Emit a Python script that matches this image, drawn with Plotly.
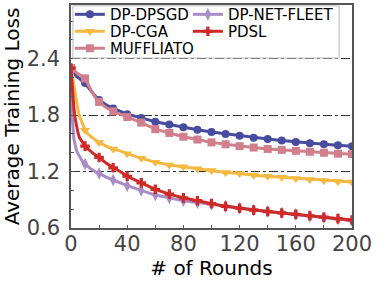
import plotly.graph_objects as go

rounds = [0, 1, 2, 3, 4, 5, 6, 8, 10, 12, 14, 16, 18, 20, 25, 30, 35, 40,
          50, 60, 70, 80, 90, 100, 110, 120, 130, 140, 150, 160, 170, 180, 190, 200]

dp_dpsgd = [2.28, 2.26, 2.24, 2.22, 2.21, 2.20, 2.19, 2.16, 2.14, 2.10, 2.06, 2.02, 1.99, 1.96,
            1.91, 1.87, 1.84, 1.81, 1.77, 1.73, 1.70, 1.67, 1.645, 1.62, 1.60, 1.58, 1.56,
            1.545, 1.53, 1.515, 1.50, 1.49, 1.48, 1.47]
dp_cga = [2.30, 2.20, 2.10, 2.01, 1.92, 1.85, 1.79, 1.71, 1.64, 1.60, 1.57, 1.55, 1.53, 1.51,
          1.47, 1.44, 1.42, 1.39, 1.34, 1.30, 1.27, 1.25, 1.23, 1.21, 1.19, 1.18, 1.16,
          1.15, 1.14, 1.125, 1.115, 1.105, 1.095, 1.09]
muffliato = [2.30, 2.29, 2.28, 2.265, 2.25, 2.24, 2.23, 2.21, 2.19, 2.13, 2.07, 2.02, 1.97, 1.94,
             1.88, 1.84, 1.81, 1.78, 1.72, 1.65, 1.61, 1.57, 1.54, 1.51, 1.49, 1.47, 1.455,
             1.44, 1.43, 1.42, 1.41, 1.40, 1.39, 1.385]
dp_net_fleet = [2.25, 1.75, 1.55, 1.47, 1.42, 1.39, 1.36, 1.31, 1.28, 1.25, 1.23, 1.21, 1.19, 1.18,
                1.14, 1.11, 1.08, 1.05, 1.00, 0.95, 0.92, 0.89, 0.87, 0.85, 0.83, 0.81, 0.79,
                0.775, 0.76, 0.745, 0.725, 0.71, 0.695, 0.675]
pdsl = [2.30, 2.05, 1.88, 1.76, 1.67, 1.61, 1.56, 1.51, 1.47, 1.44, 1.41, 1.39, 1.37, 1.35,
        1.29, 1.24, 1.20, 1.15, 1.08, 1.01, 0.96, 0.92, 0.89, 0.86, 0.83, 0.81, 0.79,
        0.775, 0.76, 0.745, 0.73, 0.715, 0.70, 0.685]

x_ticks = [0, 40, 80, 120, 160, 200]
y_ticks = [0.6, 1.2, 1.8, 2.4]

# name, values, colour, symbol, marker size, legend id, legend x, legend y (paper)
series = [
    ("DP-DPSGD", dp_dpsgd, "#484c9e", "circle", 8, "legend", -0.004, 1.031),
    ("DP-CGA", dp_cga, "#f5b942", "triangle-down", 9, "legend2", -0.004, 0.955),
    ("MUFFLIATO", muffliato, "#d27f8d", "square", 8, "legend3", -0.004, 0.879),
    ("DP-NET-FLEET", dp_net_fleet, "#a98bc8", "diamond-tall", 9, "legend4", 0.416, 1.031),
    ("PDSL", pdsl, "#cf2a27", "cross", 8, "legend5", 0.416, 0.955),
]

font_family = "DejaVu Sans"
fig = go.Figure()
legend_layouts = {}
for name, ys, color, symbol, size, lid, lx, ly in series:
    mcolors = [color if r % 10 == 0 else "rgba(0,0,0,0)" for r in rounds]
    fig.add_trace(go.Scatter(
        x=rounds, y=ys, name=name, mode="lines+markers", legend=lid,
        line=dict(color=color, width=3),
        marker=dict(symbol=symbol, size=size, color=mcolors, line=dict(width=0)),
    ))
    legend_layouts[lid] = dict(
        x=lx, y=ly, xanchor="left", yanchor="top", orientation="v",
        font=dict(size=15, family=font_family, color="black"),
        bgcolor="rgba(0,0,0,0)", borderwidth=0, itemwidth=30,
    )

# legend frame
fig.add_shape(type="rect", xref="paper", yref="paper",
              x0=0.007, x1=0.954, y0=0.762, y1=0.996,
              line=dict(color="#bbbbbb", width=1),
              fillcolor="rgba(255,255,255,0.8)", layer="above")

fig.update_layout(
    width=379, height=283,
    margin=dict(l=71, r=27, t=5, b=55, autoexpand=False),
    paper_bgcolor="white", plot_bgcolor="white",
    font=dict(family=font_family, color="black"),
    showlegend=True,
    xaxis=dict(
        range=[0, 200], tickvals=x_ticks, ticks="inside", ticklen=3,
        tickfont=dict(size=21, color="#444444"),
        showline=True, linecolor="#555555", linewidth=1.5, mirror=True,
        showgrid=False, zeroline=False, automargin=False,
        minor=dict(dtick=20, tick0=0, ticks="inside", ticklen=3, tickcolor="#555555", showgrid=False),
        tickcolor="#555555",
        title=dict(text="# of Rounds", font=dict(size=20, color="black"), standoff=2),
        ticklabelstandoff=-4,
    ),
    yaxis=dict(
        range=[0.6, 2.97], tickvals=y_ticks, ticktext=["0.6", "1.2", "1.8", "2.4"],
        ticks="inside", ticklen=3,
        tickfont=dict(size=21, color="#444444"),
        showline=True, linecolor="#555555", linewidth=1.5, mirror=True,
        showgrid=True, gridcolor="#333333", gridwidth=1, griddash="dashdot",
        zeroline=False, automargin=False,
        minor=dict(dtick=0.2, tick0=0.6, ticks="inside", ticklen=3, tickcolor="#555555", showgrid=False),
        tickcolor="#555555",
        title=dict(text="Average Training Loss", font=dict(size=20, color="black"), standoff=4),
        ticklabelstandoff=5,
    ),
    **legend_layouts,
)

fig.write_html("out.html", config={"displayModeBar": False},
               post_script="document.body.style.margin='0';document.body.style.overflow='hidden';")
